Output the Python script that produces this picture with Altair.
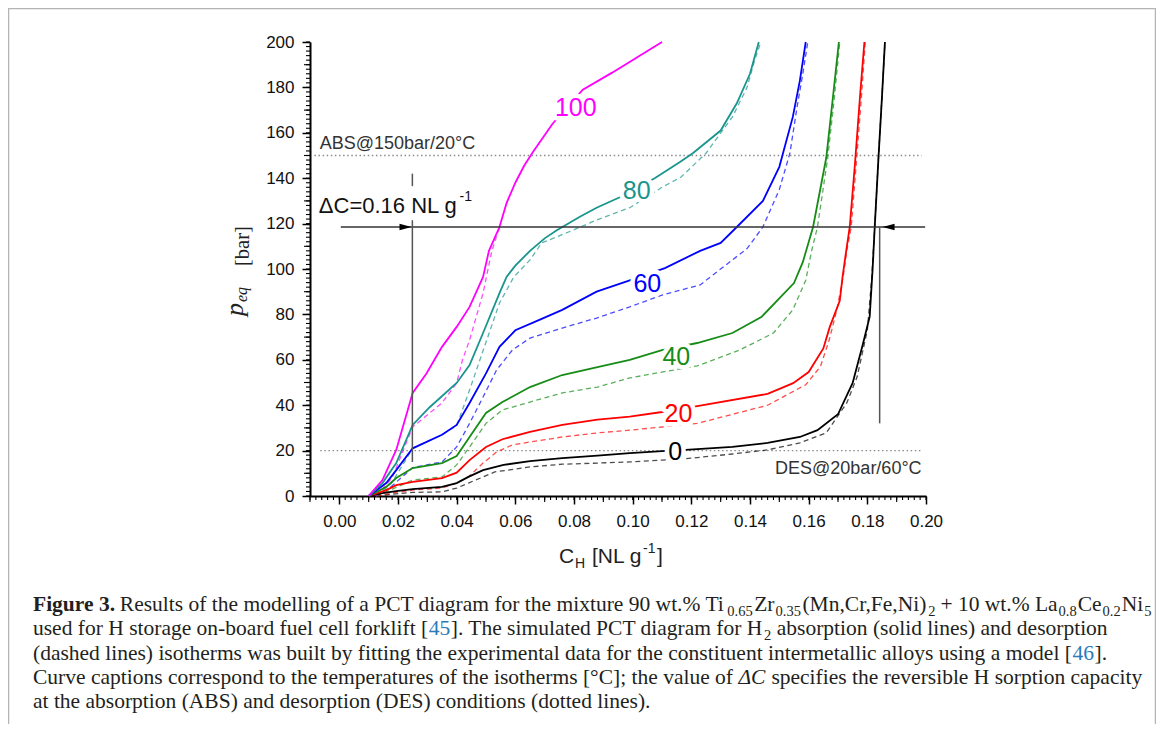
import altair as alt
import pandas as pd

# ---------------- data ----------------
series_names = ["0", "20", "40", "60", "80", "100"]
series_colors = ["#000000", "#ff0000", "#168c16", "#0000ff", "#1a958d", "#ff00ff"]

# absorption (solid) isotherms: C_H [NL/g], p [bar]
c_abs_0 = [0.010, 0.0147, 0.020, 0.025, 0.035, 0.040, 0.044, 0.049, 0.056, 0.065, 0.076, 0.088, 0.099, 0.110,
           0.118, 0.134, 0.146, 0.157, 0.163, 0.170, 0.175, 0.1785, 0.1808, 0.1818, 0.1825, 0.1838, 0.185, 0.186]
p_abs_0 = [0, 1.3, 2.3, 3.0, 4.0, 5.7, 8.4, 11.4, 13.7, 15.4, 16.7, 17.8, 18.9, 19.8,
           20.3, 21.6, 23.4, 26.0, 29.0, 36.0, 49.8, 67.0, 79.0, 100, 118, 149, 176, 200]
c_abs_20 = [0.010, 0.016, 0.0194, 0.025, 0.035, 0.040, 0.0444, 0.050, 0.0556, 0.065, 0.076, 0.088, 0.099, 0.110,
            0.122, 0.146, 0.1547, 0.160, 0.165, 0.1672, 0.1706, 0.1716, 0.1728, 0.174, 0.1758, 0.1775, 0.179]
p_abs_20 = [0, 2.6, 4.8, 6.2, 7.9, 10.3, 15.8, 21.6, 25.0, 28.3, 31.3, 33.6, 35.0, 37.0,
            39.6, 45.0, 49.7, 54.6, 65.0, 74.5, 86.0, 97.0, 108, 118.5, 146.6, 176, 200]
c_abs_40 = [0.010, 0.016, 0.0194, 0.025, 0.035, 0.040, 0.0444, 0.050, 0.0556, 0.065, 0.076, 0.088, 0.099, 0.110,
            0.122, 0.134, 0.144, 0.155, 0.158, 0.1615, 0.166, 0.1683, 0.1703]
p_abs_40 = [0, 4.0, 7.9, 12.3, 14.5, 17.6, 26.0, 36.6, 41.4, 48.0, 53.3, 56.8, 60.0, 64.3,
            67.4, 71.8, 79.0, 93.8, 103, 118.5, 149, 176, 200]
c_abs_60 = [0.010, 0.016, 0.0194, 0.025, 0.035, 0.040, 0.0444, 0.050, 0.0546, 0.060, 0.068, 0.076, 0.0877, 0.099,
            0.111, 0.123, 0.130, 0.1355, 0.1444, 0.150, 0.1546, 0.157, 0.159]
p_abs_60 = [0, 5.7, 11.4, 21.0, 27.0, 31.3, 41.0, 54.0, 65.7, 73.0, 77.5, 82.0, 90.0, 95.0,
            100.4, 108, 111.5, 118.5, 130, 145, 167, 183, 200]
c_abs_80 = [0.010, 0.0147, 0.0194, 0.025, 0.0307, 0.040, 0.0444, 0.049, 0.0546, 0.057, 0.060, 0.065, 0.070, 0.074,
            0.082, 0.0877, 0.096, 0.1075, 0.116, 0.1205, 0.130, 0.1355, 0.140, 0.143]
p_abs_80 = [0, 5.7, 14.5, 31.3, 39.0, 49.8, 57.7, 71.8, 89.4, 96.5, 101.5, 108, 113.5, 117,
            123, 127, 131.8, 140, 147, 151, 161, 173, 186, 200]
c_abs_100 = [0.010, 0.0147, 0.0194, 0.025, 0.0297, 0.035, 0.040, 0.0444, 0.049, 0.051, 0.0546, 0.057, 0.060,
             0.063, 0.066, 0.0727, 0.083, 0.093, 0.110]
p_abs_100 = [0, 7.0, 20.3, 45.4, 54.0, 65.7, 74.5, 83.3, 96.5, 108, 118.5, 129, 138,
             145.5, 151.5, 164, 179, 186.5, 200]

# desorption (dashed) isotherms
c_des_0 = [0.0126, 0.018, 0.025, 0.035, 0.040, 0.044, 0.049, 0.053, 0.065, 0.076, 0.088, 0.099, 0.110, 0.117,
           0.134, 0.146, 0.157, 0.166, 0.173, 0.1765, 0.180, 0.1815, 0.1825, 0.1838, 0.185, 0.186]
p_des_0 = [0, 0.8, 1.6, 1.8, 3.5, 5.7, 8.4, 10.6, 12.8, 14.0, 14.5, 15.0, 15.8, 16.3,
           18.5, 20.3, 23.4, 27.8, 41, 52.4, 73, 96, 118, 149, 176, 200]
c_des_20 = [0.0126, 0.018, 0.025, 0.035, 0.040, 0.044, 0.049, 0.0536, 0.059, 0.065, 0.076, 0.088, 0.099, 0.110,
            0.122, 0.146, 0.159, 0.164, 0.167, 0.1696, 0.1718, 0.173, 0.1745, 0.1762, 0.178, 0.1793]
p_des_20 = [0, 1.3, 2.6, 3.5, 5.7, 8.4, 14.5, 19.4, 22.5, 23.8, 26.0, 27.8, 29.0, 30.4,
            32.0, 40.0, 49.0, 57.0, 68.7, 82.0, 97, 108, 118.5, 146, 176, 200]
c_des_40 = [0.0126, 0.018, 0.025, 0.035, 0.040, 0.0444, 0.050, 0.0556, 0.065, 0.076, 0.088, 0.099, 0.110, 0.122,
            0.1365, 0.148, 0.1546, 0.159, 0.161, 0.163, 0.1665, 0.1688, 0.1706]
p_des_40 = [0, 3.0, 7.0, 8.4, 13.7, 21.6, 32.0, 37.9, 41.4, 45.4, 48.0, 52.0, 54.6, 57.3,
            64.3, 71.8, 82.0, 95.0, 108, 118.5, 149, 176, 200]
c_des_60 = [0.0126, 0.018, 0.025, 0.035, 0.040, 0.0444, 0.049, 0.0536, 0.059, 0.065, 0.076, 0.0877, 0.099, 0.110,
            0.123, 0.139, 0.1444, 0.150, 0.1536, 0.156, 0.158, 0.1597]
p_des_60 = [0, 4.5, 12.5, 15.0, 21.6, 32.0, 43.6, 55.5, 64.3, 69.6, 74.0, 78.4, 83.3, 88.5,
            93.0, 109, 118.5, 135, 151, 171, 186, 200]
c_des_80 = [0.0126, 0.018, 0.025, 0.035, 0.040, 0.0444, 0.049, 0.0546, 0.0595, 0.065, 0.069, 0.0795, 0.0877, 0.099,
            0.110, 0.1165, 0.125, 0.134, 0.139, 0.1416, 0.1437]
p_des_80 = [0, 6.0, 21.0, 27.0, 31.0, 46.7, 64.0, 85.0, 96.5, 104, 111.5, 117, 121.6, 127,
            136, 140.5, 151, 167, 180, 192, 200]
c_des_100 = [0.0126, 0.018, 0.025, 0.035, 0.040, 0.042, 0.0444, 0.049, 0.052, 0.0546]
p_des_100 = [0, 8.0, 30.4, 41.0, 49.8, 60.0, 68.7, 89.4, 108, 118.5]

# curve captions (temperatures, °C)
label_text = ["100", "80", "60", "40", "20", "0"]
label_c = [0.0806, 0.1014, 0.1050, 0.1149, 0.1156, 0.1145]
label_p = [170.9, 134.4, 93.4, 61.2, 36.1, 19.2]
label_colors = ["#ff00ff", "#168c16", "#0000ff", "#000000", "#ff0000", "#000000"]

# annotation values
abs_level = 150.0
des_level = 20.0
dotted_c = [-0.0085, 0.1985]
delta_level = 118.5
delta_c_left = 0.0249
delta_c_right = 0.1842
delta_h_c = [0.0005, 0.1997]

# axis ticks
x_ticks = [0.00, 0.02, 0.04, 0.06, 0.08, 0.10, 0.12, 0.14, 0.16, 0.18, 0.20]
y_ticks = [0, 20, 40, 60, 80, 100, 120, 140, 160, 180, 200]
x_mid_ticks = [-0.01, 0.01, 0.03, 0.05, 0.07, 0.09, 0.11, 0.13, 0.15, 0.17, 0.19]
y_mid_ticks = [10, 30, 50, 70, 90, 110, 130, 150, 170, 190]
x_minor_ticks = [round(-0.01 + 0.002 * k, 4) for k in range(106)]
y_minor_ticks = [2 * k for k in range(101)]

# ---------------- build tables ----------------
abs_sets = {"0": (c_abs_0, p_abs_0), "20": (c_abs_20, p_abs_20), "40": (c_abs_40, p_abs_40),
            "60": (c_abs_60, p_abs_60), "80": (c_abs_80, p_abs_80), "100": (c_abs_100, p_abs_100)}
des_sets = {"0": (c_des_0, p_des_0), "20": (c_des_20, p_des_20), "40": (c_des_40, p_des_40),
            "60": (c_des_60, p_des_60), "80": (c_des_80, p_des_80), "100": (c_des_100, p_des_100)}


def to_df(sets):
    rows = []
    for name, (cs, ps) in sets.items():
        for i, (c, p) in enumerate(zip(cs, ps)):
            rows.append({"T": name, "C": c, "p": p, "i": i})
    return pd.DataFrame(rows)


df_abs = to_df(abs_sets)
df_des = to_df(des_sets)
df_lab = pd.DataFrame({"lab": label_text, "C": label_c, "p": label_p})

SANS = "Liberation Sans"
SERIF = "Liberation Serif"
OX, OY = 310, 42  # page position of the plot origin
W, H = 616, 454

xs = alt.Scale(domain=[-0.01, 0.20], nice=False, zero=False)
ys = alt.Scale(domain=[0, 200], nice=False, zero=False)
cscale = alt.Scale(domain=series_names, range=series_colors)

main_x_axis = alt.Axis(values=x_ticks, format=".2f", orient="bottom", tickSize=8, tickWidth=1.5,
                       tickColor="black", domainColor="black", domainWidth=2, labelFont=SANS,
                       labelFontSize=17, labelColor="#111", labelPadding=9, grid=False, title=None,
                       labelFlush=False, labelOverlap=False)
main_y_axis = alt.Axis(values=y_ticks, format="d", orient="left", tickSize=8, tickWidth=1.5,
                       tickColor="black", domainColor="black", domainWidth=2, labelFont=SANS,
                       labelFontSize=17, labelColor="#111", labelPadding=8, grid=False, title=None,
                       labelFlush=False, labelOverlap=False)

# invisible layer that carries the axes (first layer with x/y fields)
axes_layer = alt.Chart(df_abs).mark_point(opacity=0).encode(
    x=alt.X("C:Q", scale=xs, axis=main_x_axis), y=alt.Y("p:Q", scale=ys, axis=main_y_axis))


def xticks(vals, length):
    return alt.Chart(pd.DataFrame({"v": vals})).mark_rule(color="black", strokeWidth=1.1).encode(
        x=alt.X("v:Q", scale=xs, axis=main_x_axis), y=alt.value(H), y2=alt.value(H + length))


def yticks(vals, length):
    return alt.Chart(pd.DataFrame({"v": vals})).mark_rule(color="black", strokeWidth=1.1).encode(
        y=alt.Y("v:Q", scale=ys, axis=main_y_axis), x=alt.value(0), x2=alt.value(-length))


def txt(s, px, py, size, font=SANS, color="black", align="left", baseline="alphabetic",
        angle=None, style=None, weight=None):
    kw = dict(align=align, baseline=baseline, font=font, fontSize=size, color=color)
    if angle is not None:
        kw["angle"] = angle
    if style:
        kw["fontStyle"] = style
    if weight:
        kw["fontWeight"] = weight
    return alt.Chart(pd.DataFrame({"t": [s]})).mark_text(**kw).encode(
        text="t:N", x=alt.value(px - OX), y=alt.value(py - OY))


def dtxt(s, c, p, size, color="black", align="left", baseline="alphabetic"):
    return alt.Chart(pd.DataFrame({"t": [s], "C": [c], "p": [p]})).mark_text(
        align=align, baseline=baseline, font=SANS, fontSize=size, color=color).encode(
        text="t:N", x=alt.X("C:Q", scale=xs, axis=main_x_axis), y=alt.Y("p:Q", scale=ys, axis=main_y_axis))


def hrule(c1, c2, p, color, width, dash=None):
    kw = dict(color=color, strokeWidth=width)
    if dash:
        kw["strokeDash"] = dash
    return alt.Chart(pd.DataFrame({"a": [c1], "b": [c2], "p": [p]})).mark_rule(**kw).encode(
        x=alt.X("a:Q", scale=xs, axis=main_x_axis), x2="b:Q", y=alt.Y("p:Q", scale=ys, axis=main_y_axis))


def vrule(c, p1, p2, color, width):
    return alt.Chart(pd.DataFrame({"c": [c], "a": [p1], "b": [p2]})).mark_rule(
        color=color, strokeWidth=width).encode(
        x=alt.X("c:Q", scale=xs, axis=main_x_axis), y=alt.Y("a:Q", scale=ys, axis=main_y_axis), y2="b:Q")


def arrow(c, p, path):
    return alt.Chart(pd.DataFrame({"c": [c], "p": [p]})).mark_point(
        shape=path, size=144, filled=True, color="black", opacity=1).encode(
        x=alt.X("c:Q", scale=xs, axis=main_x_axis), y=alt.Y("p:Q", scale=ys, axis=main_y_axis))


frame = alt.Chart(pd.DataFrame({"t": [0]})).mark_rect(
    fill="white", fillOpacity=0, stroke="#b4b4b4", strokeWidth=1.5).encode(
    x=alt.value(8.5 - OX), x2=alt.value(1155.5 - OX), y=alt.value(8.5 - OY), y2=alt.value(760 - OY))

dotted = [hrule(dotted_c[0], dotted_c[1], abs_level, "#8a8a8a", 1.3, [1.5, 2.6]),
          hrule(dotted_c[0] + 0.002, dotted_c[1], des_level, "#8a8a8a", 1.3, [1.5, 2.6])]

des_lines = alt.Chart(df_des).mark_line(strokeWidth=1.3, strokeDash=[5, 3.5], opacity=0.7).encode(
    x=alt.X("C:Q", scale=xs, axis=main_x_axis), y=alt.Y("p:Q", scale=ys, axis=main_y_axis),
    color=alt.Color("T:N", scale=cscale, legend=None), detail="T:N", order="i:Q")
abs_lines = alt.Chart(df_abs).mark_line(strokeWidth=1.8).encode(
    x=alt.X("C:Q", scale=xs, axis=main_x_axis), y=alt.Y("p:Q", scale=ys, axis=main_y_axis),
    color=alt.Color("T:N", scale=cscale, legend=None), detail="T:N", order="i:Q")

ticks = [xticks(x_minor_ticks, 4), xticks(x_mid_ticks, 6), yticks(y_minor_ticks, 4), yticks(y_mid_ticks, 6)]

delta_lines = [
    hrule(delta_h_c[0], delta_h_c[1], delta_level, "#333333", 1.3),
    vrule(delta_c_left, 15, 121.5, "#555555", 1.5),
    vrule(delta_c_left, 136.5, 142, "#555555", 1.5),
    vrule(delta_c_right, 32, delta_level, "#555555", 1.5),
    arrow(delta_c_left - 0.0003, delta_level, "M0,0L-2,-0.55L-2,0.55Z"),
    arrow(delta_c_right + 0.001, delta_level, "M0,0L2,-0.55L2,0.55Z"),
]

lab_halo = alt.Chart(df_lab).mark_text(font=SANS, fontSize=25, align="center", baseline="middle",
                                       color="white", stroke="white", strokeWidth=9,
                                       strokeJoin="round").encode(
    text="lab:N", x=alt.X("C:Q", scale=xs, axis=main_x_axis), y=alt.Y("p:Q", scale=ys, axis=main_y_axis))
lab_text = alt.Chart(df_lab).mark_text(font=SANS, fontSize=25, align="center", baseline="middle").encode(
    text="lab:N", x=alt.X("C:Q", scale=xs, axis=main_x_axis), y=alt.Y("p:Q", scale=ys, axis=main_y_axis),
    color=alt.Color("lab:N", scale=alt.Scale(domain=label_text, range=label_colors), legend=None))

annot = [
    dtxt("ABS@150bar/20°C", -0.0067, 152.9, 18, color="#333333"),
    dtxt("DES@20bar/60°C", 0.1985, 9.7, 18, color="#333333", align="right"),
    dtxt("ΔC=0.16 NL g", -0.0070, 124.7, 22, color="#111111"),
    dtxt("-1", 0.0410, 129.8, 14, color="#111111"),
]

titles = [
    # x title: C_H [NL g^-1]
    txt("C", 559, 563, 21, color="#222"),
    txt("H", 575, 568, 14, color="#222"),
    txt("[NL g", 592, 563, 21, color="#222"),
    txt("-1", 643, 553, 14, color="#222"),
    txt("]", 657, 563, 21, color="#222"),
    # y title: p_eq [bar] (rotated)
    txt("p", 243, 316, 26, font=SERIF, angle=270, style="italic", color="#222"),
    txt("eq", 247, 302, 16, font=SERIF, angle=270, style="italic", color="#222"),
    txt("[bar]", 249, 266, 20.5, font=SERIF, angle=270, color="#222"),
]

CAP = "#231f20"
BLUE = "#2b7bb9"
FS = 21.5
SUB = 14.5


def cap(s, x, y, **kw):
    return txt(s, x, y, FS, font=SERIF, color=kw.pop("color", CAP), **kw)


def sub(s, x, y):
    return txt(s, x, y + 4.5, SUB, font=SERIF, color=CAP)


L1, L2, L3, L4, L5 = 611, 635, 660, 684, 708
caption = [
    cap("Figure 3.", 33, L1, weight="bold"),
    cap("Results of the modelling of a PCT diagram for the mixture 90 wt.% Ti", 119.8, L1),
    sub("0.65", 727.3, L1),
    cap("Zr", 754.2, L1),
    sub("0.35", 775.5, L1),
    cap("(Mn,Cr,Fe,Ni)", 802.4, L1),
    sub("2", 928.2, L1),
    cap("+ 10 wt.% La", 940.4, L1),
    sub("0.8", 1058.6, L1),
    cap("Ce", 1077.7, L1),
    sub("0.2", 1102.6, L1),
    cap("Ni", 1121.7, L1),
    sub("5", 1144.2, L1),

    cap("used for H storage on-board fuel cell forklift [", 33, L2),
    cap("45", 428.8, L2, color=BLUE),
    cap("]. The simulated PCT diagram for H", 450.8, L2),
    sub("2", 764.1, L2),
    cap("absorption (solid lines) and desorption", 776.8, L2),

    cap("(dashed lines) isotherms was built by fitting the experimental data for the constituent "
        "intermetallic alloys using a model [", 33, L3),
    cap("46", 1072.6, L3, color=BLUE),
    cap("].", 1094.6, L3),

    cap("Curve captions correspond to the temperatures of the isotherms [°C]; the value of", 33, L4),
    cap("ΔC", 738.5, L4, style="italic"),
    cap("specifies the reversible H sorption capacity", 771.4, L4),

    cap("at the absorption (ABS) and desorption (DES) conditions (dotted lines).", 33, L5),
]

layers = ([frame, axes_layer] + dotted + [des_lines, abs_lines] + ticks + delta_lines
          + [lab_halo, lab_text] + annot + titles + caption)

chart = alt.layer(*layers).properties(
    width=W, height=H,
    padding={"left": 302, "top": 34, "right": 230, "bottom": 228},
    autosize=alt.AutoSizeParams(type="none"),
    background="white",
).configure_view(stroke="transparent")

chart.save("out.html", embed_options={"renderer": "svg", "actions": False})
